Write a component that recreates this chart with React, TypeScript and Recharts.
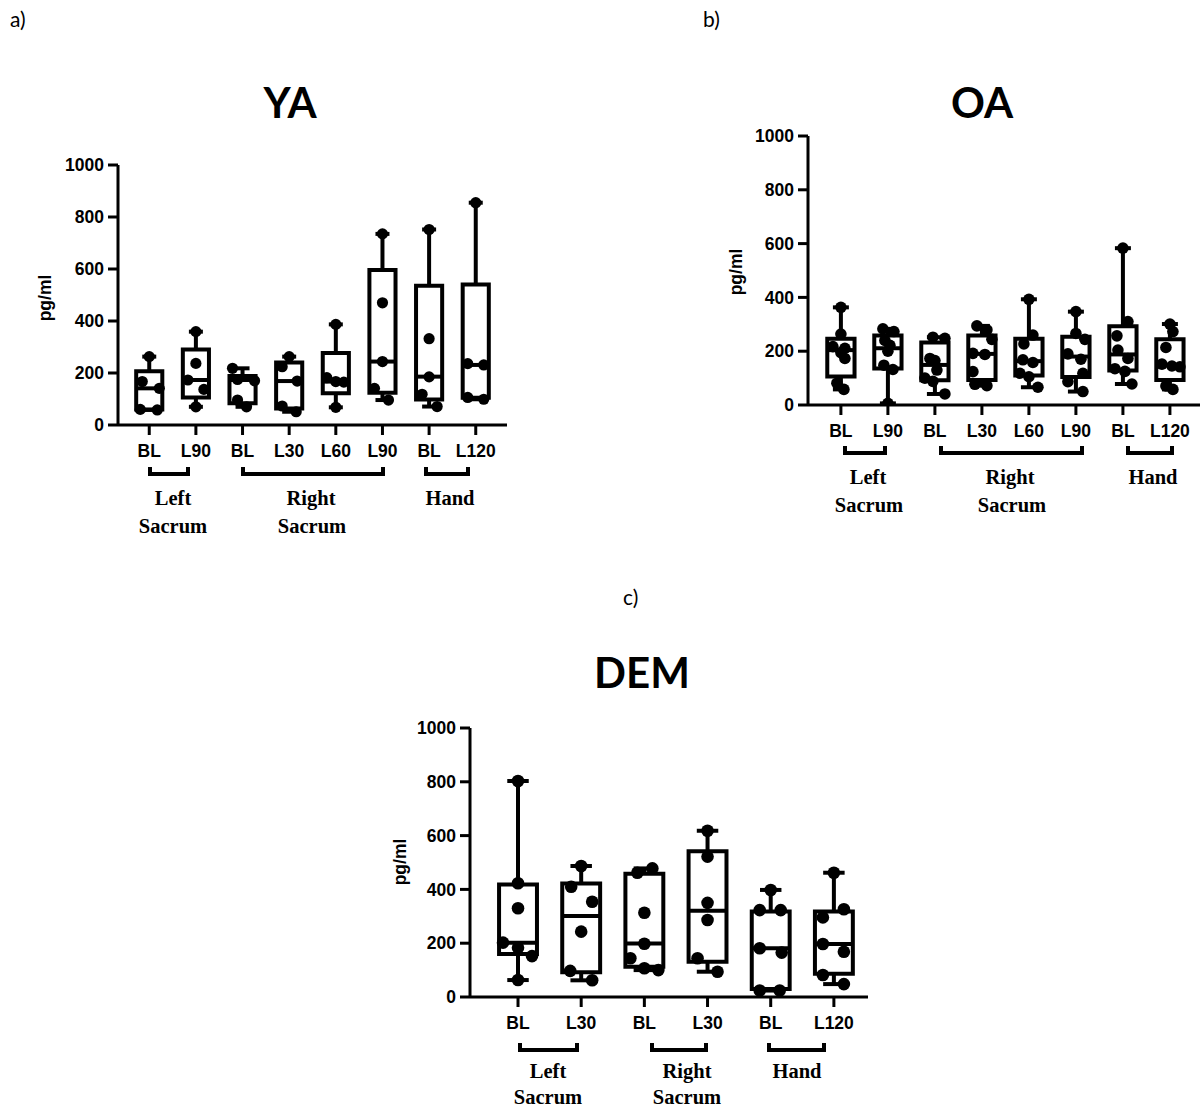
import React from 'react';
import { ComposedChart, XAxis, YAxis, Scatter, ReferenceArea, ReferenceLine } from 'recharts';

// ---------- data ----------
const Y_TICKS = [0, 200, 400, 600, 800, 1000];

// YA
const YA_CATEGORIES = ['BL', 'L90', 'BL', 'L30', 'L60', 'L90', 'BL', 'L120'];
const YA_MIN = [58, 70, 70, 51, 68, 96, 71, 99];
const YA_Q1 = [60, 106, 84, 63, 122, 124, 98, 105];
const YA_MEDIAN = [141, 173, 173, 169, 167, 244, 186, 231];
const YA_Q3 = [207, 290, 188, 240, 277, 596, 536, 540];
const YA_MAX = [263, 359, 218, 263, 387, 735, 752, 855];
const YA_POINTS = [
  [263, 167, 141, 60, 58],
  [359, 237, 173, 137, 70],
  [218, 175, 170, 96, 70],
  [263, 224, 169, 73, 51],
  [387, 182, 167, 165, 68],
  [735, 470, 244, 141, 96],
  [752, 332, 185, 118, 71],
  [855, 236, 231, 106, 99],
];
const YA_JITTER = [
  [0, -7, 10, -9, 8],
  [0, 0, -8, 8, 0],
  [-10, -5, 12, -5, 4],
  [0, -7, 8, -7, 7],
  [0, -9, 0, 8, 0],
  [0, 0, 0, -8, 6],
  [0, 0, 0, -7, 8],
  [0, -8, 8, -8, 8],
];

// OA
const OA_CATEGORIES = ['BL', 'L90', 'BL', 'L30', 'L60', 'L90', 'BL', 'L120'];
const OA_MIN = [58, 6, 41, 72, 66, 50, 78, 58];
const OA_Q1 = [106, 136, 92, 93, 110, 104, 128, 93];
const OA_MEDIAN = [204, 211, 149, 190, 163, 180, 188, 147];
const OA_Q3 = [246, 258, 232, 258, 246, 254, 293, 244];
const OA_MAX = [363, 283, 252, 294, 393, 347, 583, 301];
const OA_POINTS = [
  [363, 264, 217, 211, 195, 173, 81, 58],
  [283, 273, 240, 222, 200, 148, 132, 6],
  [252, 248, 173, 165, 130, 100, 88, 41],
  [294, 279, 244, 192, 188, 124, 77, 72],
  [393, 260, 227, 168, 158, 118, 105, 66],
  [347, 266, 244, 190, 170, 118, 87, 50],
  [583, 310, 257, 204, 173, 135, 125, 78],
  [301, 273, 214, 152, 145, 142, 71, 58],
];
const OA_JITTER = [
  [0, 0, -8, 4, 0, 4, -4, 3],
  [-5, 6, -3, 2, 0, -4, 5, 0],
  [-2, 10, -5, 0, 2, -10, -2, 10],
  [-5, 5, 10, -9, 3, -9, -7, 5],
  [0, 4, -5, -6, 4, -9, 0, 9],
  [0, 0, 9, -8, 5, 7, -8, 7],
  [0, 5, -6, -5, 5, -8, 2, 9],
  [0, 3, -4, -8, 2, 10, -4, 3],
];

// DEM
const DEM_CATEGORIES = ['BL', 'L30', 'BL', 'L30', 'BL', 'L120'];
const DEM_MIN = [63, 62, 100, 94, 24, 48];
const DEM_Q1 = [160, 92, 112, 131, 30, 86];
const DEM_MEDIAN = [202, 301, 199, 321, 181, 197];
const DEM_Q3 = [418, 422, 458, 542, 318, 318];
const DEM_MAX = [803, 487, 478, 618, 398, 462];
const DEM_POINTS = [
  [803, 423, 330, 202, 183, 152, 63],
  [487, 410, 354, 243, 97, 62],
  [478, 462, 313, 198, 144, 107, 100],
  [618, 522, 350, 286, 144, 94],
  [398, 323, 323, 181, 165, 24, 24],
  [462, 326, 296, 197, 168, 82, 48],
];
const DEM_JITTER = [
  [0, 0, 0, -15, 0, 14, 0],
  [0, -10, 11, 0, -11, 11],
  [8, -7, 0, 0, -14, 0, 14],
  [0, 0, 0, 0, -10, 10],
  [0, -11, 10, -11, 11, -11, 9],
  [0, 10, -11, -11, 10, -11, 10],
];

// ---------- styling ----------
const SANS = '"Liberation Sans", Arial, sans-serif';
const SERIF = '"Liberation Serif", "Times New Roman", serif';
const TITLE = 'Lato, "Open Sans", sans-serif';

type Cfg = {
  left: number; top: number; width: number; height: number;
  margin: { top: number; right: number; bottom: number; left: number };
  domain: [number, number]; spacing: number; boxHalf: number; capHalf: number; r: number;
};

const CFG_A: Cfg = { left: 0, top: 120, width: 520, height: 360, margin: { top: 45, right: 13, bottom: 25, left: 58 }, domain: [-0.67, 7.67], spacing: 46.6, boxHalf: 0.28, capHalf: 0.15, r: 5.6 };
const CFG_B: Cfg = { left: 690, top: 100, width: 513, height: 360, margin: { top: 36, right: 3, bottom: 25, left: 58 }, domain: [-0.7, 7.64], spacing: 47, boxHalf: 0.29, capHalf: 0.17, r: 5.8 };
const CFG_C: Cfg = { left: 352, top: 690, width: 530, height: 360, margin: { top: 38, right: 14, bottom: 23, left: 58 }, domain: [-0.76, 5.54], spacing: 63.2, boxHalf: 0.3, capHalf: 0.17, r: 6.3 };

type PanelProps = {
  cfg: Cfg; cats: string[]; mins: number[]; q1s: number[]; meds: number[]; q3s: number[]; maxs: number[];
  points: number[][]; jitter: number[][];
};

const TICK_FONT = { fill: '#000', fontSize: 17.5, fontWeight: 700, fontFamily: SANS };

function BoxPanel({ cfg, cats, mins, q1s, meds, q3s, maxs, points, jitter }: PanelProps) {
  const scatterData = points.flatMap((vals, i) =>
    vals.map((v, j) => ({ x: i + jitter[i][j] / cfg.spacing, y: v }))
  );
  const sw = 4;
  const Dot = (p: any) => <circle cx={p.cx} cy={p.cy} r={cfg.r} fill="#000" />;
  return (
    <div style={{ position: 'absolute', left: cfg.left, top: cfg.top }}>
      <ComposedChart width={cfg.width} height={cfg.height} margin={cfg.margin}>
        <XAxis
          type="number" dataKey="x" domain={cfg.domain} allowDataOverflow
          ticks={cats.map((_, i) => i)} interval={0}
          tickFormatter={(v: number) => cats[Math.round(v)]}
          axisLine={{ stroke: '#000', strokeWidth: 3 }}
          tickLine={{ stroke: '#000', strokeWidth: 3 }}
          tickSize={10} tickMargin={10} height={30}
          tick={TICK_FONT}
        />
        <YAxis
          type="number" dataKey="y" domain={[0, 1000]} allowDataOverflow
          ticks={Y_TICKS} interval={0}
          axisLine={{ stroke: '#000', strokeWidth: 3 }}
          tickLine={{ stroke: '#000', strokeWidth: 3 }}
          tickSize={10} tickMargin={4} width={60}
          tick={TICK_FONT}
        />
        {cats.map((_, i) => (
          <ReferenceLine key={'wl' + i} segment={[{ x: i, y: mins[i] }, { x: i, y: q1s[i] }]} stroke="#000" strokeWidth={sw} />
        ))}
        {cats.map((_, i) => (
          <ReferenceLine key={'wh' + i} segment={[{ x: i, y: q3s[i] }, { x: i, y: maxs[i] }]} stroke="#000" strokeWidth={sw} />
        ))}
        {cats.map((_, i) => (
          <ReferenceLine key={'cl' + i} segment={[{ x: i - cfg.capHalf, y: mins[i] }, { x: i + cfg.capHalf, y: mins[i] }]} stroke="#000" strokeWidth={sw} />
        ))}
        {cats.map((_, i) => (
          <ReferenceLine key={'ch' + i} segment={[{ x: i - cfg.capHalf, y: maxs[i] }, { x: i + cfg.capHalf, y: maxs[i] }]} stroke="#000" strokeWidth={sw} />
        ))}
        {cats.map((_, i) => (
          <ReferenceArea key={'bx' + i} x1={i - cfg.boxHalf} x2={i + cfg.boxHalf} y1={q1s[i]} y2={q3s[i]} fill="#fff" fillOpacity={1} stroke="#000" strokeWidth={sw} />
        ))}
        {cats.map((_, i) => (
          <ReferenceLine key={'md' + i} segment={[{ x: i - cfg.boxHalf, y: meds[i] }, { x: i + cfg.boxHalf, y: meds[i] }]} stroke="#000" strokeWidth={sw} />
        ))}
        <Scatter data={scatterData} dataKey="y" isAnimationActive={false} shape={Dot} />
      </ComposedChart>
    </div>
  );
}

const BRACKETS = [
  { x1: 150, x2: 188, y: 474 }, { x1: 243, x2: 383, y: 474 }, { x1: 426, x2: 468, y: 474 },
  { x1: 845, x2: 885, y: 453 }, { x1: 941, x2: 1082, y: 453 }, { x1: 1128, x2: 1172, y: 453 },
  { x1: 520, x2: 577, y: 1050 }, { x1: 652, x2: 706, y: 1050 }, { x1: 769, x2: 824, y: 1050 },
];

const GROUP_LABELS = [
  { x: 173, y: 505, t: 'Left' }, { x: 173, y: 533, t: 'Sacrum' },
  { x: 311, y: 505, t: 'Right' }, { x: 312, y: 533, t: 'Sacrum' },
  { x: 450, y: 505, t: 'Hand' },
  { x: 868, y: 484, t: 'Left' }, { x: 869, y: 512, t: 'Sacrum' },
  { x: 1010, y: 484, t: 'Right' }, { x: 1012, y: 512, t: 'Sacrum' },
  { x: 1153, y: 484, t: 'Hand' },
  { x: 548, y: 1078, t: 'Left' }, { x: 548, y: 1104, t: 'Sacrum' },
  { x: 687, y: 1078, t: 'Right' }, { x: 687, y: 1104, t: 'Sacrum' },
  { x: 797, y: 1078, t: 'Hand' },
];

function Overlay() {
  return (
    <svg width={1203} height={1110} style={{ position: 'absolute', left: 0, top: 0, pointerEvents: 'none' }}>
      <text x={10} y={27} fontFamily={TITLE} fontSize={21} fill="#000">a)</text>
      <text x={703} y={27} fontFamily={TITLE} fontSize={21} fill="#000">b)</text>
      <text x={623} y={605} fontFamily={TITLE} fontSize={21} fill="#000">c)</text>

      <text x={290} y={118} textAnchor="middle" fontFamily={TITLE} fontWeight={700} fontSize={42} fill="#000">YA</text>
      <text x={982} y={118} textAnchor="middle" fontFamily={TITLE} fontWeight={700} fontSize={42} fill="#000">OA</text>
      <text x={642} y={688} textAnchor="middle" fontFamily={TITLE} fontWeight={700} fontSize={42} fill="#000">DEM</text>

      <text transform="translate(51,298) rotate(-90)" textAnchor="middle" fontFamily={SANS} fontWeight={700} fontSize={17.5} fill="#000">pg/ml</text>
      <text transform="translate(742,272) rotate(-90)" textAnchor="middle" fontFamily={SANS} fontWeight={700} fontSize={17.5} fill="#000">pg/ml</text>
      <text transform="translate(406,862) rotate(-90)" textAnchor="middle" fontFamily={SANS} fontWeight={700} fontSize={17.5} fill="#000">pg/ml</text>

      {BRACKETS.map((b, i) => (
        <path key={i} d={`M${b.x1},${b.y - 7} L${b.x1},${b.y} L${b.x2},${b.y} L${b.x2},${b.y - 7}`} stroke="#000" strokeWidth={4} fill="none" />
      ))}
      {GROUP_LABELS.map((g, i) => (
        <text key={i} x={g.x} y={g.y} textAnchor="middle" fontFamily={SERIF} fontWeight={700} fontSize={20.5} fill="#000">{g.t}</text>
      ))}
    </svg>
  );
}

export default function App() {
  return (
    <div style={{ position: 'absolute', left: 0, top: 0, width: 1203, height: 1110, background: '#fff' }}>
      <BoxPanel cfg={CFG_A} cats={YA_CATEGORIES} mins={YA_MIN} q1s={YA_Q1} meds={YA_MEDIAN} q3s={YA_Q3} maxs={YA_MAX} points={YA_POINTS} jitter={YA_JITTER} />
      <BoxPanel cfg={CFG_B} cats={OA_CATEGORIES} mins={OA_MIN} q1s={OA_Q1} meds={OA_MEDIAN} q3s={OA_Q3} maxs={OA_MAX} points={OA_POINTS} jitter={OA_JITTER} />
      <BoxPanel cfg={CFG_C} cats={DEM_CATEGORIES} mins={DEM_MIN} q1s={DEM_Q1} meds={DEM_MEDIAN} q3s={DEM_Q3} maxs={DEM_MAX} points={DEM_POINTS} jitter={DEM_JITTER} />
      <Overlay />
    </div>
  );
}
